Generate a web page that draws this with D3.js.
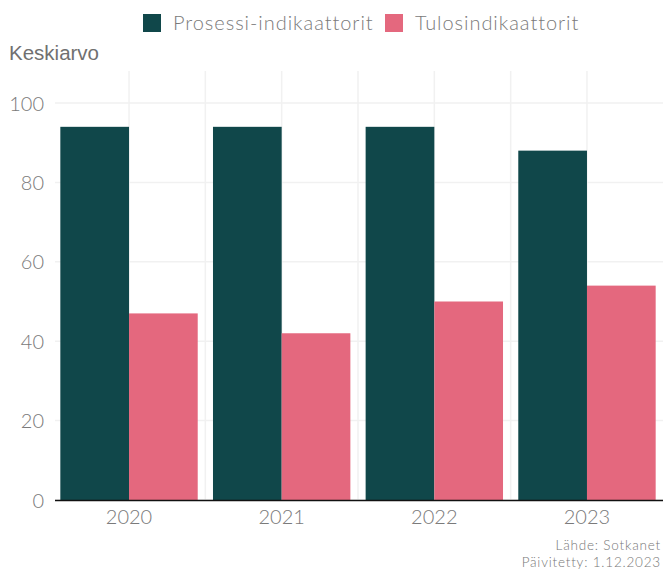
<!DOCTYPE html>
<html>
<head>
<meta charset="utf-8">
<script src="https://cdn.jsdelivr.net/npm/d3@7"></script>
<style>
  body { margin: 0; background: #fff; }
  svg { display: block; }
</style>
</head>
<body>
<svg id="chart" width="663" height="569"></svg>
<script>
const years = ["2020", "2021", "2022", "2023"];
const seriesNames = ["Prosessi-indikaattorit", "Tulosindikaattorit"];
const prosessi = [94, 94, 94, 88];
const tulos = [47, 42, 50, 54];
const yTicks = [0, 20, 40, 60, 80, 100];
const colors = ["#10474a", "#e4687e"];

const svg = d3.select("#chart");
const tickFont = "Lato, sans-serif";

// skaalat
const x0 = d3.scaleBand().domain(years).range([52.7, 663.3]).paddingInner(0.1).paddingOuter(0.05);
const x1 = d3.scaleBand().domain(seriesNames).range([0, x0.bandwidth()]);
const y = d3.scaleLinear().domain([0, 100]).range([500, 103]);
const color = d3.scaleOrdinal().domain(seriesNames).range(colors);

const rows = years.map((yr, i) => ({ year: yr, values: [prosessi[i], tulos[i]] }));

// ruudukko
const grid = svg.append("g");
const step = x0.step();
const vLines = [];
years.forEach((yr, i) => {
  vLines.push(x0(yr) + x0.bandwidth() / 2);
  if (i < years.length - 1) vLines.push(x0(yr) + x0.bandwidth() + (step - x0.bandwidth()) / 2);
});
grid.selectAll(".v").data(vLines).join("line")
  .attr("x1", d => d).attr("x2", d => d)
  .attr("y1", 71).attr("y2", 500)
  .attr("stroke", "#f1f1f1").attr("stroke-width", 1.5);
grid.selectAll(".h").data(yTicks).join("line")
  .attr("x1", 55).attr("x2", 663)
  .attr("y1", d => y(d)).attr("y2", d => y(d))
  .attr("stroke", "#f1f1f1").attr("stroke-width", 1.5);

// pylväät
svg.append("g").selectAll("g").data(rows).join("g")
  .attr("transform", d => `translate(${x0(d.year)},0)`)
  .selectAll("rect").data(d => d.values.map((v, j) => ({ key: seriesNames[j], value: v })))
  .join("rect")
  .attr("x", d => x1(d.key))
  .attr("width", x1.bandwidth())
  .attr("y", d => y(d.value))
  .attr("height", d => y(0) - y(d.value))
  .attr("fill", d => color(d.key));

// akselit
const yAxis = svg.append("g").attr("transform", "translate(44,0)")
  .call(d3.axisLeft(y).tickValues(yTicks).tickSize(0).tickPadding(0));
yAxis.select(".domain").remove();
yAxis.selectAll("text").attr("font-family", tickFont).attr("font-weight", 300)
  .attr("font-size", 20).attr("fill", "#7a7a7a").attr("dy", "0.35em");

const xAxis = svg.append("g").attr("transform", "translate(0,500)")
  .call(d3.axisBottom(x0).tickSize(0).tickPadding(10));
xAxis.select(".domain").remove();
xAxis.selectAll("text").attr("font-family", tickFont).attr("font-weight", 300)
  .attr("font-size", 20).attr("fill", "#7a7a7a");
svg.append("line").attr("x1", 55).attr("x2", 663).attr("y1", 500.5).attr("y2", 500.5)
  .attr("stroke", "#111").attr("stroke-width", 1.5);

// otsikko
svg.append("text").attr("x", 9).attr("y", 60).text("Keskiarvo")
  .attr("font-family", "Liberation Sans, Arial, sans-serif").attr("font-size", 20.5).attr("fill", "#707070");

// selite
const legend = svg.append("g");
const legX = [143, 385];
seriesNames.forEach((s, i) => {
  legend.append("rect").attr("x", legX[i]).attr("y", 14).attr("width", 18).attr("height", 18).attr("fill", color(s));
  legend.append("text").attr("x", legX[i] + 30).attr("y", 30).text(s)
    .attr("font-family", tickFont).attr("font-weight", 300).attr("font-size", 20)
    .attr("letter-spacing", 0.95).attr("fill", "#7a7a7a");
});

// lähde
const foot = svg.append("g").attr("font-family", tickFont).attr("font-weight", 300)
  .attr("font-size", 13.5).attr("fill", "#777").attr("text-anchor", "end").attr("letter-spacing", 0.8);
foot.append("text").attr("x", 661).attr("y", 550).text("Lähde: Sotkanet");
foot.append("text").attr("x", 661).attr("y", 566.5).text("Päivitetty: 1.12.2023");
</script>
</body>
</html>
